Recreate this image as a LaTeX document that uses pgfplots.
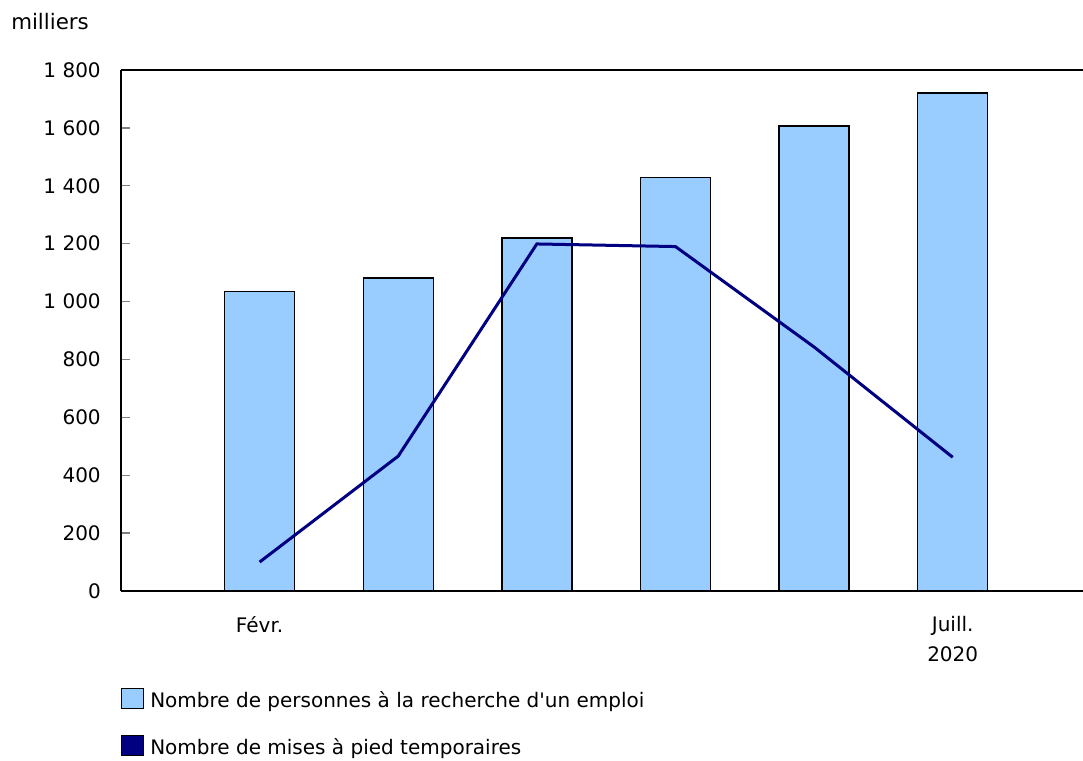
\documentclass[border=0pt]{standalone}
\usepackage{pgfplots}
\pgfplotsset{compat=1.18}
\usepackage{fontspec}
\setmainfont{DejaVu Sans}[Ligatures=TeXOff]
\definecolor{barblue}{HTML}{99CCFF}
\definecolor{navyline}{HTML}{000080}
\begin{document}
\begin{tikzpicture}
\useasboundingbox (-90.75pt,-127.5pt) rectangle (721.5pt,443.25pt);
\node[anchor=west, inner sep=0pt, font=\fontsize{16}{19}\selectfont] at (-82.5pt,426.75pt) {milliers};
\begin{axis}[
  at={(0pt,0pt)}, anchor=south west,
  scale only axis, width=721.5pt, height=390.75pt,
  xmin=0, xmax=6.94, ymin=0, ymax=1800,
  axis x line=box, axis y line=left,
  axis line style={-, line width=1pt},
  every outer y axis line/.append style={-},
  xtick={1,2,3,4,5,6},
  xticklabels={Févr.,,,,,{Juill.\\2020}},
  xtick style={draw=none},
  xticklabel style={anchor=north, inner sep=0pt, yshift=-19pt, align=center, font=\fontsize{15}{22.5}\selectfont},
  ytick={0,200,...,1800},
  yticklabels={0,200,400,600,800,1 000,1 200,1 400,1 600,1 800},
  ytick align=inside,
  major tick length=7pt,
  ytick style={line width=1pt},
  yticklabel style={anchor=east, inner sep=0pt, xshift=-15pt, font=\fontsize{15}{17}\selectfont},
  /pgf/number format/assume math mode=true,
  legend style={at={(0,-0.186)}, anchor=north west, draw=none, fill=none, inner sep=0pt,
    font=\fontsize{15}{17}\selectfont, row sep=19pt, column sep=5pt,
    nodes={inner sep=0pt, anchor=west}},
  legend cell align=left,
]
\addplot[ybar, bar width=52.5pt, fill=barblue, draw=black, line width=1.1pt,
  legend image code/.code={\draw[black, fill=barblue, line width=0.75pt] (0pt,-6pt) rectangle (16pt,9pt);}]
  coordinates {(1,1034) (2,1081) (3,1220) (4,1428) (5,1607) (6,1721)};
\addlegendentry{Nombre de personnes à la recherche d'un emploi}
\addplot[navyline, line width=2.25pt, mark=none,
  legend image code/.code={\draw[black, fill=navyline, line width=0.75pt] (0pt,-6pt) rectangle (16pt,9pt);}]
  coordinates {(1,100) (2,466) (3,1199) (4,1190) (5,843) (6,462)};
\addlegendentry{Nombre de mises à pied temporaires}
\end{axis}
\end{tikzpicture}
\end{document}
